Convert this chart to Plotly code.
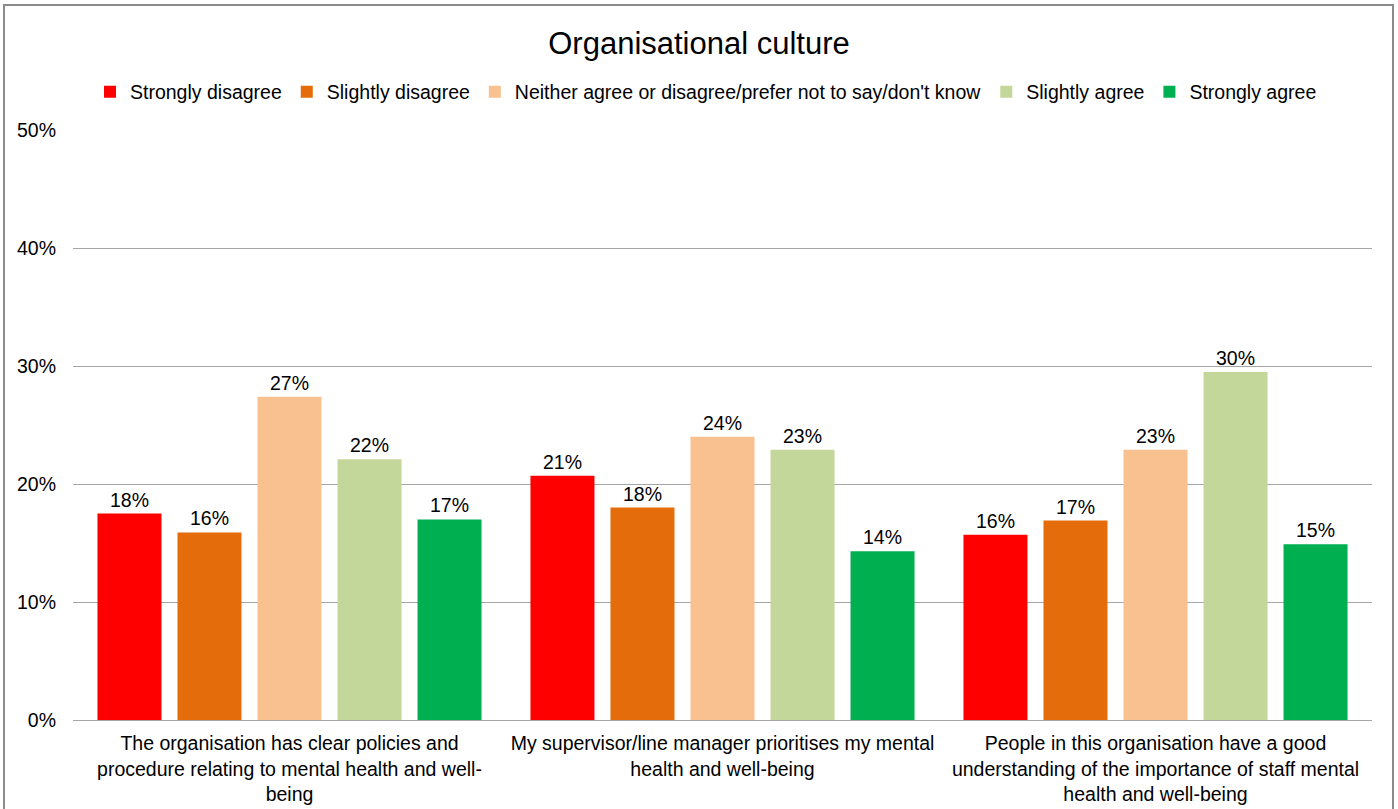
import plotly.graph_objects as go

# Survey statements (x categories), wrapped for the axis
statements = [
    "The organisation has clear policies and<br>procedure relating to mental health and well-<br>being",
    "My supervisor/line manager prioritises my mental<br>health and well-being",
    "People in this organisation have a good<br>understanding of the importance of staff mental<br>health and well-being",
]

# Response categories and their colours
responses = [
    "Strongly disagree",
    "Slightly disagree",
    "Neither agree or disagree/prefer not to say/don't know",
    "Slightly agree",
    "Strongly agree",
]
colors = ["#ff0000", "#e46c0a", "#f9c090", "#c4d79b", "#00b050"]

# Share of respondents per response, one list per response category
strongly_disagree = [0.175, 0.207, 0.157]
slightly_disagree = [0.159, 0.180, 0.169]
neither = [0.274, 0.240, 0.229]
slightly_agree = [0.221, 0.229, 0.295]
strongly_agree = [0.170, 0.143, 0.149]

series = [strongly_disagree, slightly_disagree, neither, slightly_agree, strongly_agree]

FONT = "Liberation Sans, Arial, sans-serif"

fig = go.Figure()
for name, vals, col in zip(responses, series, colors):
    fig.add_trace(go.Bar(
        x=statements,
        y=vals,
        name=name,
        marker=dict(color=col, line=dict(width=0)),
        text=vals,
        texttemplate="%{y:.0%}",
        textposition="outside",
        textfont=dict(family=FONT, size=19.5, color="#000000"),
        cliponaxis=False,
    ))

W, H = 1398, 809
ML, MR, MT, MB = 73, 26, 130, 89
pw, ph = W - ML - MR, H - MT - MB


def px_x(x):
    return (x - ML) / pw


def px_y(y):
    return (H - MB - y) / ph


fig.update_layout(
    width=W,
    height=H,
    margin=dict(l=ML, r=MR, t=MT, b=MB, pad=0, autoexpand=False),
    paper_bgcolor="white",
    plot_bgcolor="white",
    font=dict(family=FONT, size=19.5, color="#000000"),
    title=dict(
        text="Organisational culture",
        x=0.5,
        xanchor="center",
        y=1 - 43 / H,
        yanchor="middle",
        font=dict(family=FONT, size=31, color="#000000"),
    ),
    barmode="group",
    bargap=0.076,
    bargroupgap=0.2,
    legend=dict(
        orientation="h",
        x=px_x(706),
        xanchor="center",
        y=px_y(92),
        yanchor="middle",
        font=dict(family=FONT, size=19.5, color="#000000"),
        itemwidth=30,
        traceorder="normal",
    ),
    xaxis=dict(
        showline=True,
        linecolor="#a6a6a6",
        linewidth=1,
        ticks="",
        automargin=False,
        ticklabelstandoff=6,
        tickfont=dict(family=FONT, size=19.5, color="#000000"),
        showgrid=False,
    ),
    yaxis=dict(
        range=[0, 0.5],
        dtick=0.1,
        tickformat=".0%",
        showgrid=True,
        gridcolor="#a6a6a6",
        gridwidth=1,
        zeroline=False,
        ticks="",
        automargin=False,
        ticklabelstandoff=16,
        tickfont=dict(family=FONT, size=19.5, color="#000000"),
    ),
    shapes=[
        dict(
            type="rect",
            xref="paper",
            yref="paper",
            x0=px_x(4),
            x1=px_x(1393),
            y0=px_y(H + 5),
            y1=px_y(5),
            line=dict(color="#8c8c8c", width=2),
            fillcolor="rgba(0,0,0,0)",
            layer="below",
        )
    ],
)

fig.write_html("out.html")
